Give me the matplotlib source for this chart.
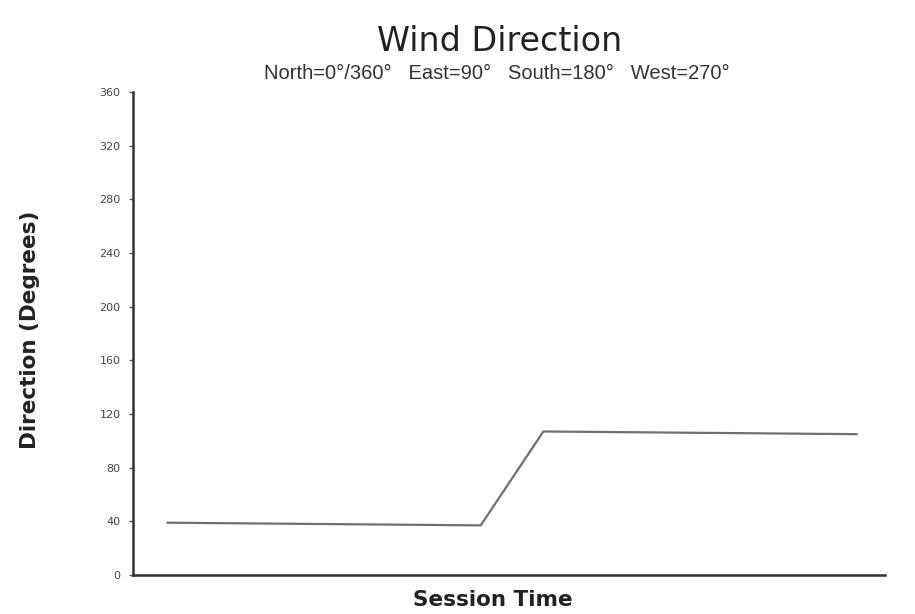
import matplotlib
matplotlib.use("Agg")
import matplotlib.pyplot as plt

session_time = [1, 6, 7, 12]
direction_deg = [39, 37, 107, 105]
y_ticks = [0, 40, 80, 120, 160, 200, 240, 280, 320, 360]

title = "Wind Direction"
subtitle = "North=0°/360°   East=90°   South=180°   West=270°"

fig = plt.figure(figsize=(9.15, 6.14), dpi=100)
ax = fig.add_axes([0.1454, 0.0635, 0.8216, 0.7865])

ax.plot(session_time, direction_deg, color="#6f6f6f", linewidth=1.6)

ax.set_xlim(0.45, 12.45)
ax.set_ylim(0, 360)
ax.set_yticks(y_ticks)
ax.set_yticklabels([str(t) for t in y_ticks], fontsize=8, color="#444444")
ax.set_xticks([])
ax.tick_params(axis="y", length=3, width=1, color="#555555", pad=6)

for s in ["top", "right"]:
    ax.spines[s].set_visible(False)
for s in ["left", "bottom"]:
    ax.spines[s].set_color("#333333")
    ax.spines[s].set_linewidth(1.8)

fig.text(0.033, 0.463, "Direction (Degrees)", rotation=90, ha="center", va="center",
         fontsize=15.5, fontweight="bold", color="#222222")
fig.text(0.539, 0.022, "Session Time", ha="center", va="center",
         fontsize=15.5, fontweight="bold", color="#222222")

fig.text(0.546, 0.933, title, ha="center", va="center", fontsize=24, color="#222222")
fig.text(0.543, 0.881, subtitle, ha="center", va="center", fontsize=14.5,
         color="#333333", family="Liberation Sans")

fig.savefig("out.png", dpi=100, facecolor="white")
